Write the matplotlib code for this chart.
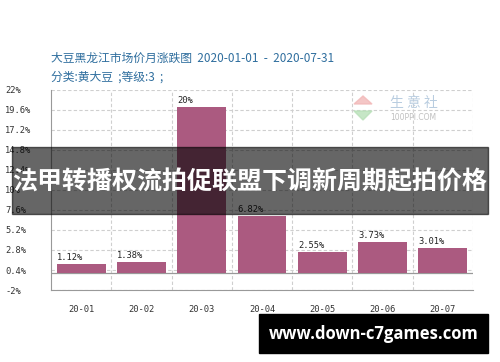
import matplotlib
matplotlib.use("Agg")
import matplotlib.pyplot as plt
from matplotlib.patches import Rectangle, Polygon

categories = ["20-01", "20-02", "20-03", "20-04", "20-05", "20-06", "20-07"]
values = [1.12, 1.38, 20, 6.82, 2.55, 3.73, 3.01]
value_labels = ["1.12%", "1.38%", "20%", "6.82%", "2.55%", "3.73%", "3.01%"]
yticks = [-2, 0.4, 2.8, 5.2, 7.6, 10, 12.4, 14.8, 17.2, 19.6, 22]
ytick_labels = ["-2%", "0.4%", "2.8%", "5.2%", "7.6%", "10%", "12.4%", "14.8%", "17.2%", "19.6%", "22%"]
title1 = "大豆黑龙江市场价月涨跌图  2020-01-01  -  2020-07-31"
title2 = "分类:黄大豆  ;等级:3  ;"
banner = "法甲转播权流拍促联盟下调新周期起拍价格"
site = "www.down-c7games.com"

W, H = 500, 362
fig = plt.figure(figsize=(5.0, 3.62), dpi=100)
fig.patch.set_facecolor("white")
ax = fig.add_axes([51 / W, 1 - 290 / H, (473 - 51) / W, (290 - 90) / H])

mono = "DejaVu Sans Mono"
x = list(range(len(categories)))
bars = ax.bar(x, values, width=0.81, color="#ab5a80", zorder=3)
for b, lab in zip(bars, value_labels):
    ax.annotate(lab, (b.get_x(), b.get_height()), xytext=(0, 1.5),
                textcoords="offset points", ha="left", va="bottom",
                fontsize=6.3, family=mono, color="#222222", zorder=4)

ax.set_xlim(-0.5, len(categories) - 0.5)
ax.set_ylim(-2, 22)
ax.set_yticks(yticks)
ax.set_yticklabels(ytick_labels, family=mono, fontsize=6.3, color="#333333")
for t in ax.get_yticklabels():
    t.set_horizontalalignment("left")
ax.tick_params(axis="y", length=0, pad=33)
ax.set_xticks(x)
ax.set_xticklabels(categories, family=mono, fontsize=6.3, color="#333333")
ax.tick_params(axis="x", length=0, pad=11)

# grid
for yv in yticks:
    ax.axhline(yv, color="#cfcfcf", lw=0.8, ls=(0, (3, 2)), zorder=1)
for xv in [i + 0.5 for i in range(len(categories))]:
    ax.axvline(xv, color="#cfcfcf", lw=0.8, ls=(0, (3, 2)), zorder=1)
ax.axhline(0, color="#999999", lw=0.9, zorder=2)
for s in ["top", "right"]:
    ax.spines[s].set_visible(False)
ax.spines["left"].set_color("#999999")
ax.spines["bottom"].set_color("#999999")

cjk = ["Noto Sans CJK SC", "DejaVu Sans"]
fig.text(51 / W, 1 - 58 / H, title1, family=cjk, fontsize=8.5, color="#2f6e9e",
         ha="left", va="center")
fig.text(51 / W, 1 - 77 / H, title2, family=cjk, fontsize=8.5, color="#2f6e9e",
         ha="left", va="center")

# watermark
fig.patches.append(Polygon([[363 / W, 1 - 96 / H], [372 / W, 1 - 104 / H], [354 / W, 1 - 104 / H]],
                           closed=True, transform=fig.transFigure, color="#f2b8b8", alpha=0.8))
fig.patches.append(Polygon([[354 / W, 1 - 111 / H], [372 / W, 1 - 111 / H], [363 / W, 1 - 120 / H]],
                           closed=True, transform=fig.transFigure, color="#b8e0b8", alpha=0.8))
fig.text(390 / W, 1 - 103 / H, "生 意 社", family=cjk, fontsize=10, color="#b9cde0",
         ha="left", va="center")
fig.text(390 / W, 1 - 117 / H, "100PPI.COM", family="DejaVu Sans", fontsize=5.5,
         color="#c0c0c0", ha="left", va="center")

# banner overlay
fig.patches.append(Rectangle((12 / W, 1 - 214 / H), (488 - 12) / W, (214 - 147) / H,
                             transform=fig.transFigure, color="black", alpha=0.6, zorder=10))
fig.text(250 / W, 1 - 182 / H, banner, family=cjk, fontweight="bold", fontsize=18,
         color="white", ha="center", va="center", zorder=11)

# site box
fig.patches.append(Rectangle((259 / W, 1 - 353 / H), (488 - 259) / W, (353 - 314) / H,
                             transform=fig.transFigure, color="black", zorder=10))
fig.text(374 / W, 1 - 334 / H, site, family="Open Sans", fontweight="bold", fontsize=12,
         color="white", ha="center", va="center", zorder=11)

fig.savefig("out.png", dpi=100)
